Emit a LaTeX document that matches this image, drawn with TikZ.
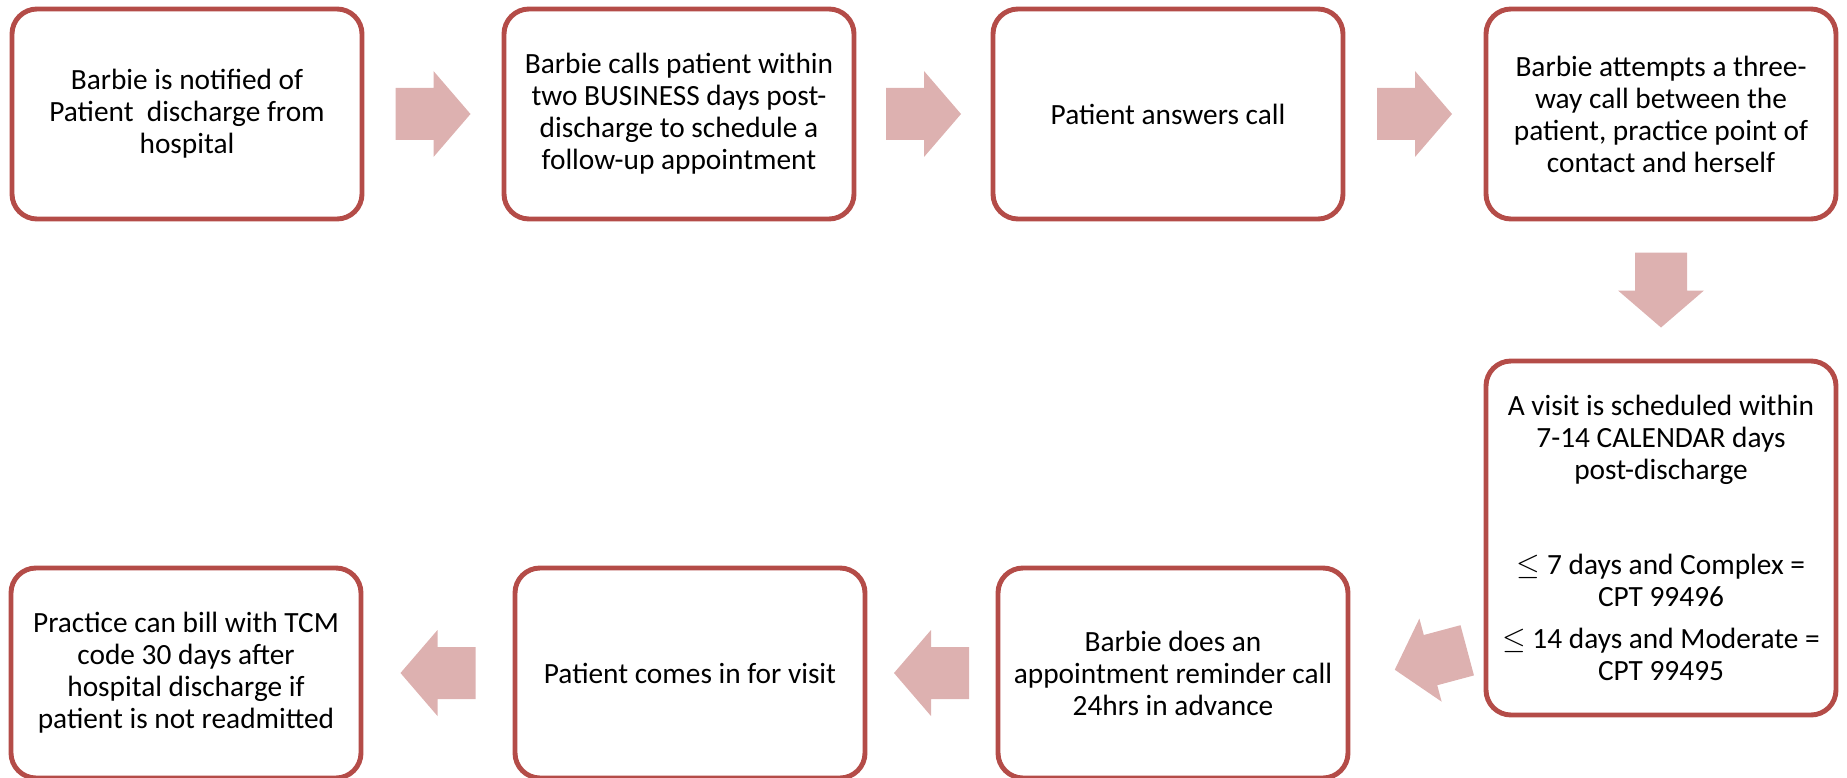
\documentclass[tikz,border=0pt]{standalone}
\usepackage{fontspec}
\setmainfont{Carlito}
\definecolor{boxred}{RGB}{180, 76, 72}
\definecolor{arrowpink}{RGB}{221, 177, 176}
\usetikzlibrary{positioning, calc}

\tikzset{
  stepbox/.style={draw=boxred, line width=2.8pt, rounded corners=0.5cm, fill=white,
    minimum width=7cm, minimum height=4.2cm, align=center,
    font=\fontsize{16.7}{18.2}\selectfont},
  blockarrow/.pic={
    \fill[arrowpink] (-0.75,-0.52) -- (0.01,-0.52) -- (0.01,-0.86) -- (0.75,0)
      -- (0.01,0.86) -- (0.01,0.52) -- (-0.75,0.52) -- cycle;
  }
}

\begin{document}
\begin{tikzpicture}
  \useasboundingbox (0,0) rectangle (36.94,-15.56);

  % top row
  \node[stepbox] (s1) at (3.74, -2.28) {Barbie is notified of\\Patient\ \ discharge from\\hospital};
  \node[stepbox] (s2) at (13.58, -2.28) {Barbie calls patient within\\two BUSINESS days post-\\discharge to schedule a\\follow-up appointment};
  \node[stepbox] (s3) at (23.36, -2.28) {Patient answers call};
  \node[stepbox] (s4) at (33.22, -2.28) {Barbie attempts a three-\\way call between the\\patient, practice point of\\contact and herself};

  % right column
  \node[stepbox, minimum height=7.08cm] (s5) at (33.22, -10.76) {
    A visit is scheduled within\\7-14 CALENDAR days\\post-discharge\\[36pt]
    $\leq$ 7 days and Complex =\\CPT 99496\\[5.7pt]
    $\leq$ 14 days and Moderate =\\CPT 99495
  };

  % bottom row
  \node[stepbox] (s6) at (3.72, -13.46) {Practice can bill with TCM\\code 30 days after\\hospital discharge if\\patient is not readmitted};
  \node[stepbox] (s7) at (13.80, -13.46) {Patient comes in for visit};
  \node[stepbox] (s8) at (23.46, -13.46) {Barbie does an\\appointment reminder call\\24hrs in advance};

  % arrows
  \pic at ($(s1.east)!0.5!(s2.west)$) {blockarrow};
  \pic at ($(s2.east)!0.5!(s3.west)$) {blockarrow};
  \pic at ($(s3.east)!0.5!(s4.west)$) {blockarrow};
  \pic[rotate=-90] at ($(s4.south)!0.5!(s5.north)$) {blockarrow};
  \pic[rotate=195] at ($($(s8.east)!0.5!(s5.west |- s8.east)$)+(0.28,0.26)$) {blockarrow};
  \pic[rotate=180] at ($(s8.west)!0.5!(s7.east)$) {blockarrow};
  \pic[rotate=180] at ($(s7.west)!0.5!(s6.east)$) {blockarrow};
\end{tikzpicture}
\end{document}
